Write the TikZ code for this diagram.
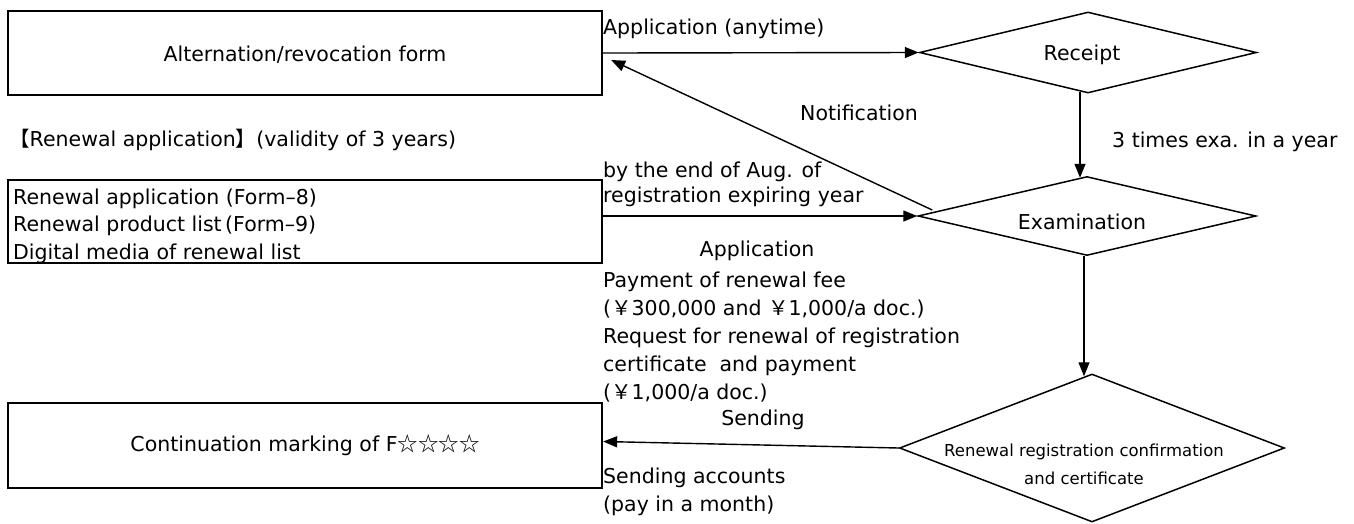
\documentclass[tikz,border=0pt]{standalone}
\usepackage{fontspec}
\setmainfont{DejaVu Sans}
\newfontfamily\cjk{Noto Sans CJK JP}
\usetikzlibrary{shapes.geometric,arrows.meta,calc}
\begin{document}
\begin{tikzpicture}[x=1pt,y=-1pt,
  box/.style={draw,line width=2.3pt,minimum width=594pt,inner sep=0pt},
  dia/.style={draw,diamond,line width=1.5pt,inner sep=0pt},
  arr/.style={line width=1.4pt,-{Triangle[length=14pt,width=11pt]}},
  txt/.style={inner sep=0pt,font=\fontsize{20.5}{24}\selectfont},
  multi/.style={txt,align=left,font=\fontsize{20.5}{28}\selectfont}
  ]
\useasboundingbox (0,0) rectangle (1354,523);

% boxes
\node[box,minimum height=84pt,txt,text height=18pt,text depth=2pt] (form) at (305,53) {Alternation/revocation form};
\node[box,minimum height=83pt] (renew) at (305,221.5) {};
\node[multi,anchor=west,font=\fontsize{20.5}{27.5}\selectfont] (renewT) at (13,226)
  {Renewal application (Form–8)\\Renewal product list\,(Form–9)\\Digital media of renewal list};
\node[box,minimum height=85pt,txt] (mark) at (305,445.5) {Continuation marking of F{\cjk ☆☆☆☆}};

% diamonds
\node[dia,minimum width=337pt,minimum height=81pt] (receipt) at (1088,52.5) {};
\node[txt] (receiptT) at (1082,55) {Receipt};
\node[dia,minimum width=338pt,minimum height=79pt] (exam) at (1087,216) {};
\node[txt] (examT) at (1082,222) {Examination};
\node[dia,minimum width=385pt,minimum height=148pt] (cert) at (1092,448) {};
\node[inner sep=0pt,align=center,font=\fontsize{16.5}{28}\selectfont] (certT) at (1084,464)
  {Renewal registration confirmation\\and certificate};

% labels
\node[txt,anchor=west] (appl) at (603,29) {Application (anytime)};
\node[txt] (notif) at (859,113) {Notification};
\node[txt,anchor=west] (head) at (9,140) {{\cjk 【}Renewal application{\cjk 】}(validity of 3 years)};
\node[txt,anchor=west] (three) at (1112,142) {3 times exa. in a year};
\node[multi,anchor=west,font=\fontsize{20.5}{25}\selectfont] (byend) at (603,184)
  {by the end of Aug. of\\registration expiring year};
\node[txt] (app2) at (757,251) {Application};
\node[multi,anchor=west] (pay) at (603,337)
  {Payment of renewal fee\\({\cjk ￥}300,000 and {\cjk ￥}1,000/a doc.)\\Request for renewal of registration\\certificate\ \ and payment\\({\cjk ￥}1,000/a doc.)};
\node[txt] (send) at (763,420) {Sending};
\node[multi,anchor=west] (acct) at (603,492) {Sending accounts\\(pay in a month)};

% connectors
\draw[arr] (form.east) -- (receipt.west);
\draw[arr] ($(receipt.south)+(-8,-2)$) -- ($(exam.north)+(-7,2)$);
\draw[arr] (renew.east |- exam.west) -- (exam.west);
\coordinate (nst) at ($(exam.west)+(15,-6)$);
\coordinate (nend) at ($(form.east)+(8,7)$);
\draw[arr] (nst) -- (nend);
\draw[arr] ($(exam.south)+(-3,0)$) -- ($(cert.north)+(-8,3)$);
\coordinate (sendend) at ($(mark.east)+(0,-4)$);
\draw[arr] (cert.west) -- (sendend);
\end{tikzpicture}
\end{document}
